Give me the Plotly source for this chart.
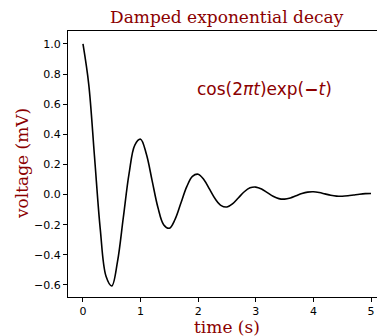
import plotly.graph_objects as go

# time samples (s)
t_values = [round(0.1 * i, 1) for i in range(51)]
# voltage (mV)
voltage = [1.0, 0.7320, 0.2530, -0.2289, -0.5423, -0.6065, -0.4440, -0.1535, 0.1388, 0.3289,
           0.3679, 0.2693, 0.0931, -0.0842, -0.1995, -0.2231, -0.1633, -0.0565, 0.0511, 0.1210,
           0.1353, 0.0991, 0.0342, -0.0310, -0.0734, -0.0821, -0.0601, -0.0208, 0.0188, 0.0445,
           0.0498, 0.0364, 0.0126, -0.0114, -0.0270, -0.0302, -0.0221, -0.0076, 0.0069, 0.0163,
           0.0183, 0.0134, 0.0046, -0.0042, -0.0100, -0.0111, -0.0082, -0.0028, 0.0025, 0.0060,
           0.0067]
x_ticks = [0, 1, 2, 3, 4, 5]
y_ticks = [-0.6, -0.4, -0.2, 0.0, 0.2, 0.4, 0.6, 0.8, 1.0]

DARKRED = "#8B0000"
SERIF = "DejaVu Serif, Liberation Serif, serif"
SANS = "DejaVu Sans, sans-serif"

fig = go.Figure()
fig.add_trace(go.Scatter(x=t_values, y=voltage, mode="lines",
                         line=dict(color="black", width=1.6, shape="spline", smoothing=1.0),
                         hoverinfo="skip", showlegend=False))

axis_common = dict(showline=True, linecolor="black", linewidth=1, ticks="outside",
                   ticklen=4, tickwidth=1, tickcolor="black", showgrid=False, zeroline=False,
                   automargin=False,
                   tickfont=dict(family=SANS, size=11, color="black"))

fig.update_layout(
    width=377, height=336,
    margin=dict(l=68, r=0, t=31, b=39, autoexpand=False),
    plot_bgcolor="white", paper_bgcolor="white",
    xaxis=dict(range=[-0.26, 5.104], tickvals=x_ticks, mirror=True, **axis_common),
    yaxis=dict(range=[-0.68, 1.086], tickvals=y_ticks, tickformat=".1f", **axis_common),
    annotations=[
        dict(text="Damped exponential decay", xref="paper", yref="paper", x=0.515, y=1.0,
             xanchor="center", yanchor="bottom", yshift=2, showarrow=False,
             font=dict(family=SERIF, size=17, color=DARKRED)),
        dict(text="cos(2<i>πt</i>)exp(<b>−</b><i>t</i>)", xref="x", yref="y", x=2, y=0.70,
             xanchor="left", yanchor="middle", xshift=-3, showarrow=False,
             font=dict(family=SANS, size=17, color=DARKRED)),
        dict(text="time (s)", xref="paper", yref="paper", x=0.515, y=0, yshift=-30,
             xanchor="center", yanchor="middle", showarrow=False,
             font=dict(family=SERIF, size=17, color=DARKRED)),
        dict(text="voltage (mV)", xref="paper", yref="paper", x=0, xshift=-46, y=0.5,
             xanchor="center", yanchor="middle", textangle=-90, showarrow=False,
             font=dict(family=SERIF, size=17, color=DARKRED)),
    ],
)

fig.write_html("out.html", config={"displayModeBar": False, "staticPlot": True},
               post_script="document.body.style.margin='0';document.body.style.overflow='hidden';")
